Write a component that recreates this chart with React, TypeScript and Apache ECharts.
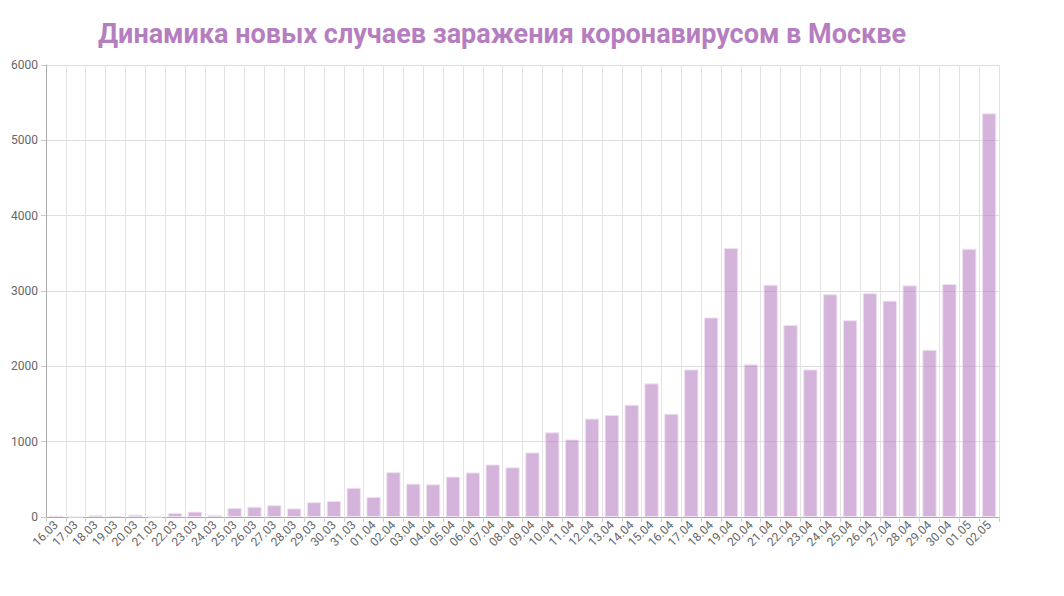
import React, { useEffect, useRef } from "react";
import * as echarts from "echarts";

const titleText = "Динамика новых случаев заражения коронавирусом в Москве";

const dates = [
  "16.03", "17.03", "18.03", "19.03", "20.03", "21.03", "22.03", "23.03",
  "24.03", "25.03", "26.03", "27.03", "28.03", "29.03", "30.03", "31.03",
  "01.04", "02.04", "03.04", "04.04", "05.04", "06.04", "07.04", "08.04",
  "09.04", "10.04", "11.04", "12.04", "13.04", "14.04", "15.04", "16.04",
  "17.04", "18.04", "19.04", "20.04", "21.04", "22.04", "23.04", "24.04",
  "25.04", "26.04", "27.04", "28.04", "29.04", "30.04", "01.05", "02.05",
];

const newCases = [
  17, 0, 26, 12, 31, 0, 53, 71,
  28, 120, 136, 157, 114, 197, 212, 387,
  267, 595, 443, 434, 536, 591, 697, 660,
  857, 1124, 1030, 1306, 1355, 1489, 1774, 1370,
  1959, 2649, 3570, 2026, 3083, 2548, 1959, 2957,
  2612, 2971, 2871, 3075, 2220, 3093, 3561, 5358,
];

const yTicks = { min: 0, max: 6000, interval: 1000 };

export default function App() {
  const ref = useRef<HTMLDivElement>(null);
  useEffect(() => {
    if (!ref.current) return;
    const chart = echarts.init(ref.current, undefined, { renderer: "svg" });
    chart.setOption({
      animation: false,
      backgroundColor: "#ffffff",
      title: {
        text: titleText,
        left: 489,
        textAlign: "center",
        top: 7,
        textStyle: {
          fontFamily: "Roboto",
          fontWeight: "bold",
          fontSize: 27,
          color: "#b57ec0",
        },
      },
      grid: { left: 36, right: 57, top: 57, bottom: 71, containLabel: false },
      xAxis: {
        type: "category",
        data: dates,
        boundaryGap: true,
        axisLine: { show: true, lineStyle: { color: "#aaaaaa" } },
        axisTick: { show: true, alignWithLabel: false, length: 5, lineStyle: { color: "#cccccc" } },
        axisLabel: {
          interval: 0,
          rotate: 45,
          fontFamily: "Roboto",
          fontSize: 12,
          color: "#666666",
          margin: 6,
        },
        splitLine: { show: true, interval: 0, lineStyle: { color: "#e3e3e3" } },
      },
      yAxis: {
        type: "value",
        min: yTicks.min,
        max: yTicks.max,
        interval: yTicks.interval,
        axisLine: { show: true, lineStyle: { color: "#aaaaaa" } },
        axisTick: { show: true, length: 5, lineStyle: { color: "#cccccc" } },
        axisLabel: {
          fontFamily: "Roboto",
          fontSize: 12,
          color: "#666666",
          margin: 8,
          formatter: (v: number) => String(v),
        },
        splitLine: { show: true, lineStyle: { color: "#dddddd" } },
      },
      series: [
        {
          type: "bar",
          data: newCases,
          barCategoryGap: "28%",
          itemStyle: {
            color: "rgba(181,126,192,0.58)",
            borderColor: "rgba(240,225,242,0.9)",
            borderWidth: 1,
          },
        },
      ],
    });
    return () => chart.dispose();
  }, []);
  return <div ref={ref} style={{ width: 1048, height: 580 }} />;
}
